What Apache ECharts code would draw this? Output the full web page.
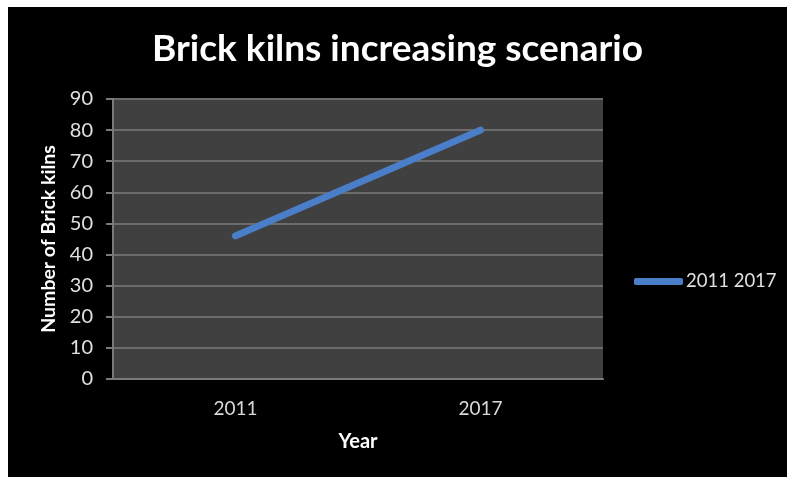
<!DOCTYPE html>
<html>
<head>
<meta charset="utf-8">
<script src="https://cdn.jsdelivr.net/npm/echarts@6/dist/echarts.min.js"></script>
<style>
  html, body { margin: 0; padding: 0; background: #ffffff; width: 787px; height: 477px; overflow: hidden; }
  #chart { position: absolute; left: 8px; top: 7px; width: 779px; height: 470px; }
</style>
</head>
<body>
<div id="chart"></div>
<script>
// Brick kiln counts by year
const years = ['2011', '2017'];
const kilns = [46, 80];
const seriesName = '2011 2017';
const yTicks = { min: 0, max: 90, interval: 10 };

const font = 'Lato, "Open Sans", sans-serif';
const chart = echarts.init(document.getElementById('chart'), null, { renderer: 'canvas' });

chart.setOption({
  backgroundColor: '#000000',
  animation: false,
  title: {
    text: 'Brick kilns increasing scenario',
    left: 'center',
    top: 19,
    textStyle: { color: '#ffffff', fontFamily: font, fontWeight: 'bold', fontSize: 37 }
  },
  legend: {
    data: [{ name: seriesName, icon: 'roundRect' }],
    left: 621,
    top: 260,
    itemWidth: 49,
    itemHeight: 7,
    itemGap: 4,
    textStyle: { color: '#e0e0e0', fontFamily: font, fontSize: 18.5, padding: [0, 0, 0, -2] }
  },
  grid: {
    left: 105, right: 184, top: 92, bottom: 98,
    show: true,
    backgroundColor: '#404040',
    borderWidth: 0
  },
  xAxis: {
    type: 'category',
    data: years,
    boundaryGap: true,
    name: 'Year',
    nameLocation: 'middle',
    nameGap: 53,
    nameTextStyle: { color: '#ffffff', fontFamily: font, fontWeight: 'bold', fontSize: 20 },
    axisLine: { show: true, lineStyle: { color: '#7a7a7a', width: 2 } },
    axisTick: { show: false },
    axisLabel: { color: '#d9d9d9', fontFamily: font, fontSize: 19, margin: 20 },
    splitLine: { show: false }
  },
  yAxis: {
    type: 'value',
    min: yTicks.min,
    max: yTicks.max,
    interval: yTicks.interval,
    name: 'Number of Brick kilns',
    nameLocation: 'middle',
    nameRotate: 90,
    nameGap: 51,
    nameTextStyle: { color: '#ffffff', fontFamily: font, fontWeight: 'bold', fontSize: 19.5 },
    axisLine: { show: true, lineStyle: { color: '#7a7a7a', width: 2 } },
    axisTick: { show: true, length: 7, lineStyle: { color: '#7a7a7a', width: 2 } },
    axisLabel: { color: '#e0e0e0', fontFamily: font, fontSize: 20, margin: 20 },
    splitLine: { show: true, lineStyle: { color: '#6c6c6c', width: 2 } }
  },
  series: [{
    name: seriesName,
    type: 'line',
    data: kilns,
    showSymbol: false,
    symbol: 'none',
    lineStyle: { color: '#4a7ec8', width: 7, cap: 'round' },
    itemStyle: { color: '#4a7ec8' }
  }]
});
</script>
</body>
</html>
